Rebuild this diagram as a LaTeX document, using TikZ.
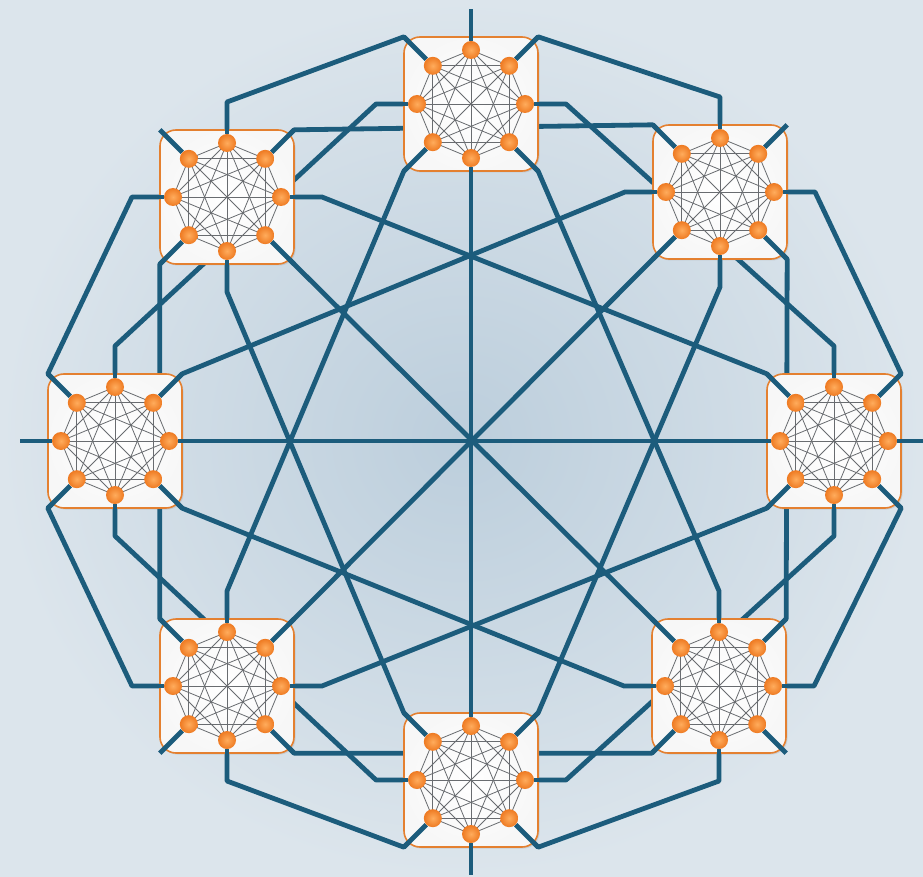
\documentclass[tikz,border=0pt]{standalone}
\usepackage{tikz}
\usetikzlibrary{calc,shadows,backgrounds}

\definecolor{linkblue}{RGB}{28,92,124}
\definecolor{boxorange}{RGB}{228,128,48}
\definecolor{routerlight}{RGB}{255,172,92}
\definecolor{routerdark}{RGB}{238,122,34}
\definecolor{wiregray}{RGB}{105,108,112}
\definecolor{bginner}{RGB}{188,206,220}
\definecolor{bgouter}{RGB}{220,229,236}

\pgfdeclarelayer{links}
\pgfdeclarelayer{boxes}
\pgfdeclarelayer{wires}
\pgfsetlayers{background,links,boxes,wires,main}

\begin{document}
\begin{tikzpicture}[
    x=1pt, y=1pt,
    link/.style={draw=linkblue, line width=4.8pt, line join=round},
    group/.style={
        draw=boxorange,
        line width=1.6pt,
        rounded corners=16pt,
        minimum size=134pt,
        inner sep=0pt,
        inner color=white,
        outer color=black!3,
        drop shadow={shadow xshift=1.5pt, shadow yshift=-1.5pt, opacity=0.2}
    },
    wire/.style={draw=wiregray, line width=0.8pt},
    router/.style={circle, minimum size=18pt, inner sep=0pt,
        inner color=routerlight, outer color=routerdark}
]
\begin{pgfonlayer}{background}
\shade[inner color=bginner, outer color=bgouter] (0,0) rectangle (923,-877);
\end{pgfonlayer}
\useasboundingbox (0,0) rectangle (923,-877);

% group centres, counted anticlockwise from the right one
\foreach \i/\x/\y in {0/834/441, 1/720/192, 2/471/104, 3/227/197,
                      4/115/441, 5/227/686, 6/471/780, 7/719/686}
    \coordinate (c\i) at (\x,-\y);

% routers and the ends of their stubs
\foreach \i in {0,...,7}
    \foreach \j in {0,...,7} {
        \node[router] (r\i\j) at ([shift={(\j*45:54)}]c\i) {};
        \coordinate (s\i\j) at ([shift={(\j*45:95)}]c\i);
    }

% global links: port b of group a to port a of group b
\begin{pgfonlayer}{links}
\foreach \a in {0,...,7}
    \foreach \b in {0,...,7} {
        \ifnum\a<\b\relax
            \draw[link] (r\a\b) -- (s\a\b) -- (s\b\a) -- (r\b\a);
        \fi
    }
\end{pgfonlayer}

\begin{pgfonlayer}{boxes}
\foreach \i in {0,...,7}
    \node[group] (g\i) at (c\i) {};
\end{pgfonlayer}

% stubs over the boxes and the local all-to-all wiring
\begin{pgfonlayer}{wires}
\foreach \i in {0,...,7} {
    \foreach \j in {0,...,7}
        \draw[link] (r\i\j) -- (s\i\j);
    \foreach \j in {0,...,7}
        \foreach \k in {0,...,7} {
            \ifnum\j<\k\relax
                \draw[wire] (r\i\j.center) -- (r\i\k.center);
            \fi
        }
}
\end{pgfonlayer}
\end{tikzpicture}
\end{document}
